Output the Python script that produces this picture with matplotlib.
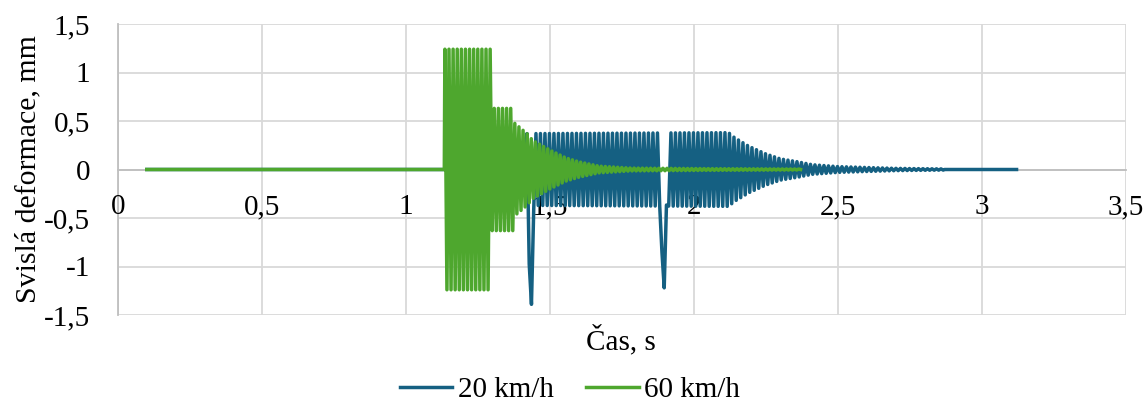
#!/usr/bin/env python
# -*- coding: utf-8 -*-

import numpy as np
import matplotlib
matplotlib.use("Agg")
import matplotlib.pyplot as plt
from matplotlib.ticker import FuncFormatter

# 20 km/h - obalka kmitani (cas, amplituda)
blue_start, blue_end = 0.1, 3.12
blue_freq = 64.0
blue_env_t = [1.42, 2.12, 2.14, 2.19, 2.25, 2.30, 2.36, 2.41, 2.50, 2.70, 2.87]
blue_env_a = [0.37, 0.38, 0.33, 0.24, 0.16, 0.11, 0.08, 0.05, 0.03, 0.012, 0.006]
blue_spike_t = [1.437, 1.895]
blue_spike_v = [-1.39, -1.22]

# 60 km/h
green_start, green_end = 0.1, 2.37
green_freq = 70.0
green_env_t = [1.135, 1.295, 1.297, 1.373, 1.376, 1.42, 1.44, 1.50, 1.555, 1.60, 1.67, 1.78, 2.00, 2.37]
green_env_a = [1.24, 1.24, 0.63, 0.63, 0.48, 0.37, 0.30, 0.20, 0.12, 0.08, 0.035, 0.015, 0.01, 0.005]

labels = ["20 km/h", "60 km/h"]
colors = ["#156082", "#4EA72E"]


def build(start, end, freq, env_t, env_a, spike_t=(), spike_v=()):
    t = np.arange(env_t[0], env_t[-1], 0.5 / freq)
    a = np.interp(t, env_t, env_a)
    y = a * np.where(np.arange(len(t)) % 2 == 0, 1.0, -1.0)
    for st, sv in zip(spike_t, spike_v):
        i = np.argmin(np.abs(t - st))
        y[i] = sv
        y[i - 1] = 0.7 * sv
        y[i + 1] = 0.3 * sv
    # klidova cast pred a po kmitani
    t = np.concatenate([[start, env_t[0] - 0.002], t, [env_t[-1], end]])
    y = np.concatenate([[0.0, 0.0], y, [0.0, 0.0]])
    return t, y


plt.rcParams['font.family'] = ['Liberation Serif', 'DejaVu Serif']
fs = 21

fig = plt.figure(figsize=(11.45, 4.01), dpi=100)
ax = fig.add_axes([118 / 1145, 1 - 315 / 401, (1126 - 118) / 1145, (315 - 24) / 401])

xticks = np.arange(0, 3.51, 0.5)
yticks = np.arange(-1.5, 1.51, 0.5)
for v in xticks:
    ax.axvline(v, color="#D9D9D9", lw=1.3, zorder=1)
for v in yticks:
    ax.axhline(v, color="#D9D9D9", lw=1.3, zorder=1)

tb, yb = build(blue_start, blue_end, blue_freq, blue_env_t, blue_env_a, blue_spike_t, blue_spike_v)
tg, yg = build(green_start, green_end, green_freq, green_env_t, green_env_a)
ax.plot(tb, yb, color=colors[0], lw=2.5, label=labels[0], zorder=2)
ax.plot(tg, yg, color=colors[1], lw=2.5, label=labels[1], zorder=2.1)

ax.set_xlim(0, 3.5)
ax.set_ylim(-1.5, 1.5)
ax.set_xticks(xticks)
ax.set_yticks(yticks)
fmt = FuncFormatter(lambda v, p: ("%g" % round(v, 2)).replace(".", ","))
ax.xaxis.set_major_formatter(fmt)
ax.yaxis.set_major_formatter(fmt)
for s in ["top", "right"]:
    ax.spines[s].set_visible(False)
ax.spines['bottom'].set_position(('data', 0))
for s in ["bottom", "left"]:
    ax.spines[s].set_color("#BFBFBF")
    ax.spines[s].set_linewidth(1.3)
    ax.spines[s].set_zorder(1.5)
ax.tick_params(axis='both', length=0, labelsize=fs, colors="black")
ax.tick_params(axis='x', pad=18)
ax.tick_params(axis='y', pad=20)

ax.set_ylabel("Svislá deformace, mm", fontsize=fs + 0.5, labelpad=2)
fig.text(621 / 1145, 1 - 340 / 401, "Čas, s", fontsize=fs, ha='center', va='center')

fig.legend(loc='center', bbox_to_anchor=(570 / 1145, 1 - 390 / 401), ncol=2, frameon=False,
           fontsize=fs, handlelength=1.8, handletextpad=0.2, columnspacing=1.1)

fig.savefig("out.png", dpi=100)
